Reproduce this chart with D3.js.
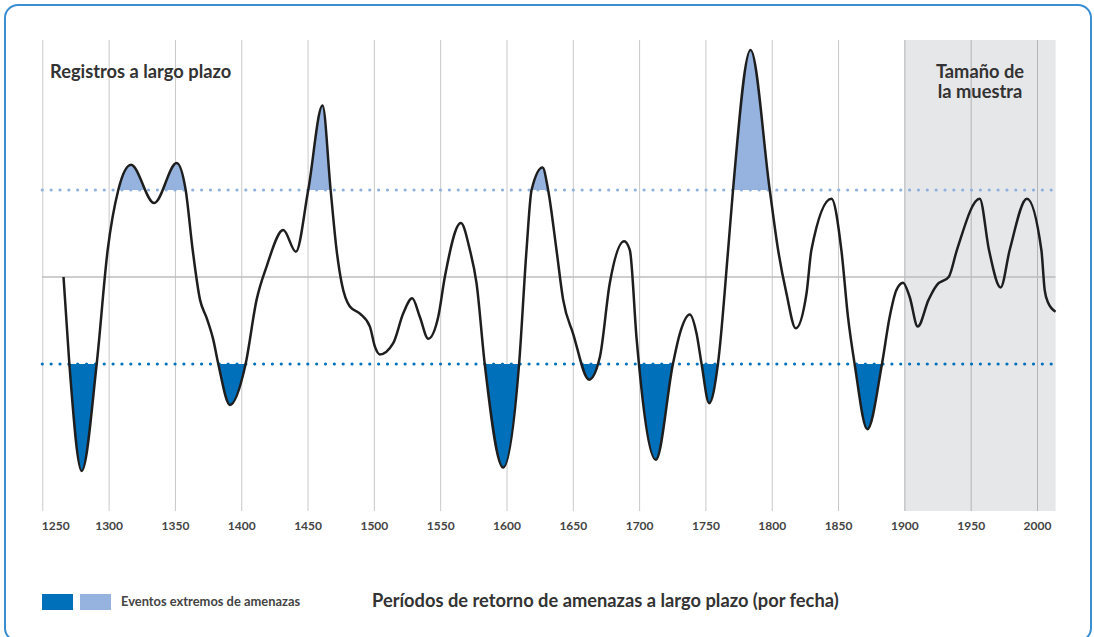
<!DOCTYPE html>
<html>
<head>
<meta charset="utf-8">
<script src="https://d3js.org/d3.v7.min.js"></script>
<style>
    body { margin: 0; background: #fff; }
    svg text { font-family: Lato, "Noto Sans", sans-serif; font-weight: bold; }
</style>
</head>
<body>
<svg width="1094" height="637"></svg>
<script>
    // curve: year / value (0 = mean, +-1 = thresholds)
    var years = [1266, 1270.4, 1279.7, 1291, 1299.3, 1307.3, 1316.9, 1334.4, 1351.3, 1358.1,
        1363.4, 1368.9, 1373.9, 1378.9, 1382.7, 1391.5, 1403.3, 1411.6, 1419.1, 1431.7,
        1441.2, 1450.5, 1461.3, 1467.4, 1471.9, 1475.7, 1481.9, 1489.5, 1497, 1500.8,
        1504.5, 1514.6, 1522.1, 1528.9, 1534.7, 1541, 1548.5, 1553.5, 1565.6, 1572.4,
        1577.4, 1583.6, 1597.5, 1609.5, 1615.1, 1618.9, 1627.2, 1631.4, 1637.7, 1642.7,
        1650.2, 1662.3, 1670.4, 1677.9, 1688.7, 1693, 1698, 1712.6, 1725.6, 1730.7,
        1738.2, 1743.3, 1747, 1752.8, 1759.5, 1767.1, 1770.8, 1784, 1798.5, 1804.8,
        1811.1, 1818.1, 1826.2, 1829.9, 1845, 1852.5, 1857.5, 1862.5, 1872.1, 1883.1,
        1888.9, 1894, 1899, 1904, 1910.1, 1918.3, 1925.9, 1928.3, 1933.4, 1939.6,
        1956.8, 1963.8, 1972.6, 1979.4, 1992.4, 2003.3, 2005.8, 2008.5, 2014];
    var values = [0, -1.0, -2.23, -1.0, 0.31, 1.0, 1.29, 0.85, 1.31, 1.0,
        0.31, -0.26, -0.47, -0.72, -1.0, -1.47, -1.0, -0.26, 0.12, 0.54,
        0.29, 1.0, 1.97, 1.0, 0.31, -0.07, -0.34, -0.42, -0.57, -0.80,
        -0.89, -0.76, -0.42, -0.245, -0.46, -0.71, -0.46, 0.0, 0.62, 0.31,
        -0.07, -1.0, -2.19, -1.0, 0.31, 1.0, 1.26, 1.0, 0.31, -0.26,
        -0.65, -1.18, -0.92, -0.07, 0.41, 0.31, -0.69, -2.1, -0.99, -0.65,
        -0.43, -0.65, -0.99, -1.45, -0.99, 0.31, 1.0, 2.61, 1.0, 0.31,
        -0.19, -0.59, -0.19, 0.31, 0.9, 0.31, -0.46, -1.0, -1.75, -1.0,
        -0.46, -0.15, -0.065, -0.23, -0.57, -0.26, -0.07, -0.05, 0.0, 0.31,
        0.9, 0.31, -0.12, 0.31, 0.9, 0.31, -0.15, -0.3, -0.4];

    var tickYears = [1250, 1300, 1350, 1400, 1450, 1500, 1550, 1600, 1650, 1700, 1750, 1800, 1850, 1900, 1950, 2000];
    var sampleStart = 1900, sampleEnd = 2014;
    var upper = 1, lower = -1;
    var darkBlue = '#0070ba', lightBlue = '#95b3de';

    var data = years.map(function (d, i) { return { year: d, v: values[i] }; });

    var svg = d3.select('svg');
    var x = d3.scaleLinear().domain([1250, 2000]).range([42.3, 1037]);
    var y = d3.scaleLinear().domain([-1, 1]).range([364, 190]);
    var gridTop = 40, gridBottom = 511;

    // frame
    svg.append('rect')
        .attr('x', 5).attr('y', 5).attr('width', 1086).attr('height', 636)
        .attr('rx', 13)
        .attr('fill', 'none').attr('stroke', '#3b8ed0').attr('stroke-width', 2);

    // sample size band
    svg.append('rect')
        .attr('x', x(sampleStart)).attr('y', gridTop)
        .attr('width', x(sampleEnd) - x(sampleStart)).attr('height', gridBottom - gridTop)
        .attr('fill', '#e6e7e9');

    // gridlines + labels
    var ax = svg.append('g')
        .attr('transform', 'translate(0,' + gridTop + ')')
        .call(d3.axisBottom(x).tickValues(tickYears).tickSize(gridBottom - gridTop).tickPadding(10).tickFormat(d3.format('d')));
    ax.select('.domain').remove();
    ax.selectAll('.tick line')
        .attr('stroke', function (d) { return d >= sampleStart ? '#b4b4b6' : '#c8c8c8'; });
    ax.selectAll('.tick text')
        .style('font-size', '12px').attr('fill', '#444')
        .attr('text-anchor', function (d, i) { return i == 0 ? 'start' : 'middle'; })
        .attr('x', function (d, i) { return i == 0 ? -1 : 0; });

    // mean line
    svg.append('line')
        .attr('x1', x(1250)).attr('x2', x(sampleEnd))
        .attr('y1', y(0)).attr('y2', y(0))
        .attr('stroke', '#bdbdbd').attr('stroke-width', 1.5);

    var curve = d3.curveMonotoneX;

    // fills above / below thresholds
    var defs = svg.append('defs');
    defs.append('clipPath').attr('id', 'clipUp').append('rect')
        .attr('x', 0).attr('y', 0).attr('width', 1094).attr('height', y(upper));
    defs.append('clipPath').attr('id', 'clipDown').append('rect')
        .attr('x', 0).attr('y', y(lower)).attr('width', 1094).attr('height', 637 - y(lower));

    svg.append('path').datum(data)
        .attr('clip-path', 'url(#clipUp)')
        .attr('fill', lightBlue)
        .attr('d', d3.area().curve(curve)
            .x(function (d) { return x(d.year); })
            .y0(y(upper))
            .y1(function (d) { return y(d.v); }));

    svg.append('path').datum(data)
        .attr('clip-path', 'url(#clipDown)')
        .attr('fill', darkBlue)
        .attr('d', d3.area().curve(curve)
            .x(function (d) { return x(d.year); })
            .y0(y(lower))
            .y1(function (d) { return y(d.v); }));

    // dotted threshold lines
    [[upper, '#8fb0df'], [lower, darkBlue]].forEach(function (t) {
        svg.append('line')
            .attr('x1', x(1250)).attr('x2', x(sampleEnd) + 0.5)
            .attr('y1', y(t[0])).attr('y2', y(t[0]))
            .attr('stroke', t[1]).attr('stroke-width', 3.2)
            .attr('stroke-linecap', 'round')
            .attr('stroke-dasharray', '0 8.85');
    });

    // the curve
    svg.append('path').datum(data)
        .attr('fill', 'none')
        .attr('stroke', '#1e1e1e')
        .attr('stroke-width', 2.5)
        .attr('d', d3.line().curve(curve)
            .x(function (d) { return x(d.year); })
            .y(function (d) { return y(d.v); }));

    // labels
    svg.append('text')
        .attr('x', 50).attr('y', 78)
        .style('font-size', '18.3px').attr('fill', '#333')
        .text('Registros a largo plazo');

    var tm = svg.append('text')
        .attr('text-anchor', 'middle')
        .style('font-size', '18.3px').attr('fill', '#333');
    tm.append('tspan').attr('x', 980).attr('y', 78).text('Tamaño de');
    tm.append('tspan').attr('x', 980).attr('y', 98).text('la muestra');

    // legend
    svg.append('rect').attr('x', 42).attr('y', 594).attr('width', 31).attr('height', 16).attr('fill', darkBlue);
    svg.append('rect').attr('x', 80).attr('y', 594).attr('width', 31).attr('height', 16).attr('fill', lightBlue);
    svg.append('text')
        .attr('x', 121).attr('y', 606)
        .style('font-size', '12.9px').attr('fill', '#444')
        .text('Eventos extremos de amenazas');

    svg.append('text')
        .attr('x', 372).attr('y', 607)
        .style('font-size', '18.3px').attr('fill', '#333')
        .text('Períodos de retorno de amenazas a largo plazo (por fecha)');
</script>
</body>
</html>
